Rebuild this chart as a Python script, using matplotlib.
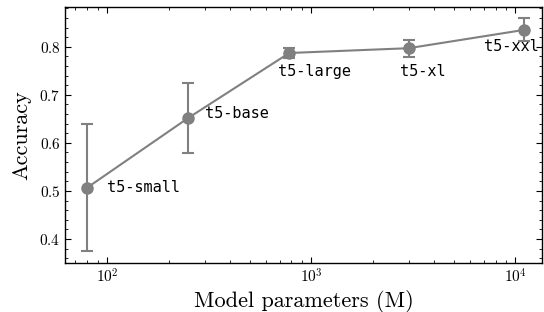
import numpy as np
import matplotlib
matplotlib.use("Agg")
import matplotlib.pyplot as plt
from matplotlib.ticker import AutoMinorLocator

# data
models = ["t5-small", "t5-base", "t5-large", "t5-xl", "t5-xxl"]
params = [80, 250, 780, 3000, 11000]
acc = [0.507, 0.652, 0.787, 0.797, 0.835]
err_lo = [0.131, 0.073, 0.010, 0.018, 0.024]
err_hi = [0.133, 0.072, 0.010, 0.018, 0.024]

# label offsets (points) relative to each point
offsets = [(14, 0), (12, 3), (-8, -13), (-6, -17), (-29, -12)]

plt.rcParams.update({
    "font.family": "serif",
    "font.serif": ["cmr10"],
    "mathtext.fontset": "cm",
    "axes.formatter.use_mathtext": True,
    "axes.unicode_minus": False,
    "xtick.direction": "in",
    "ytick.direction": "in",
    "xtick.top": True,
    "ytick.right": True,
    "xtick.minor.visible": True,
    "ytick.minor.visible": True,
    "xtick.major.size": 4,
    "ytick.major.size": 4,
    "xtick.minor.size": 2,
    "ytick.minor.size": 2,
    "axes.linewidth": 1.0,
})

fig, ax = plt.subplots(figsize=(5.44, 3.12), dpi=100)
fig.subplots_adjust(left=0.12, right=0.997, top=0.978, bottom=0.157)

ax.errorbar(params, acc, yerr=[err_lo, err_hi], color="gray", marker="o",
            markersize=8, capsize=4, elinewidth=1.5, capthick=1.5, linewidth=1.5)

for m, x, y, off in zip(models, params, acc, offsets):
    ax.annotate(m, (x, y), xytext=off, textcoords="offset points",
                family="DejaVu Sans Mono", fontsize=11, va="center")

ax.set_xscale("log")
ax.set_xlim(62.4, 13550)
ax.set_ylim(0.35, 0.883)
ax.yaxis.set_minor_locator(AutoMinorLocator(5))
ax.tick_params(labelsize=11)
ax.set_xlabel("Model parameters (M)", fontsize=16, labelpad=3)
ax.set_ylabel("Accuracy", fontsize=16, labelpad=6)

fig.savefig("out.png", dpi=100)
